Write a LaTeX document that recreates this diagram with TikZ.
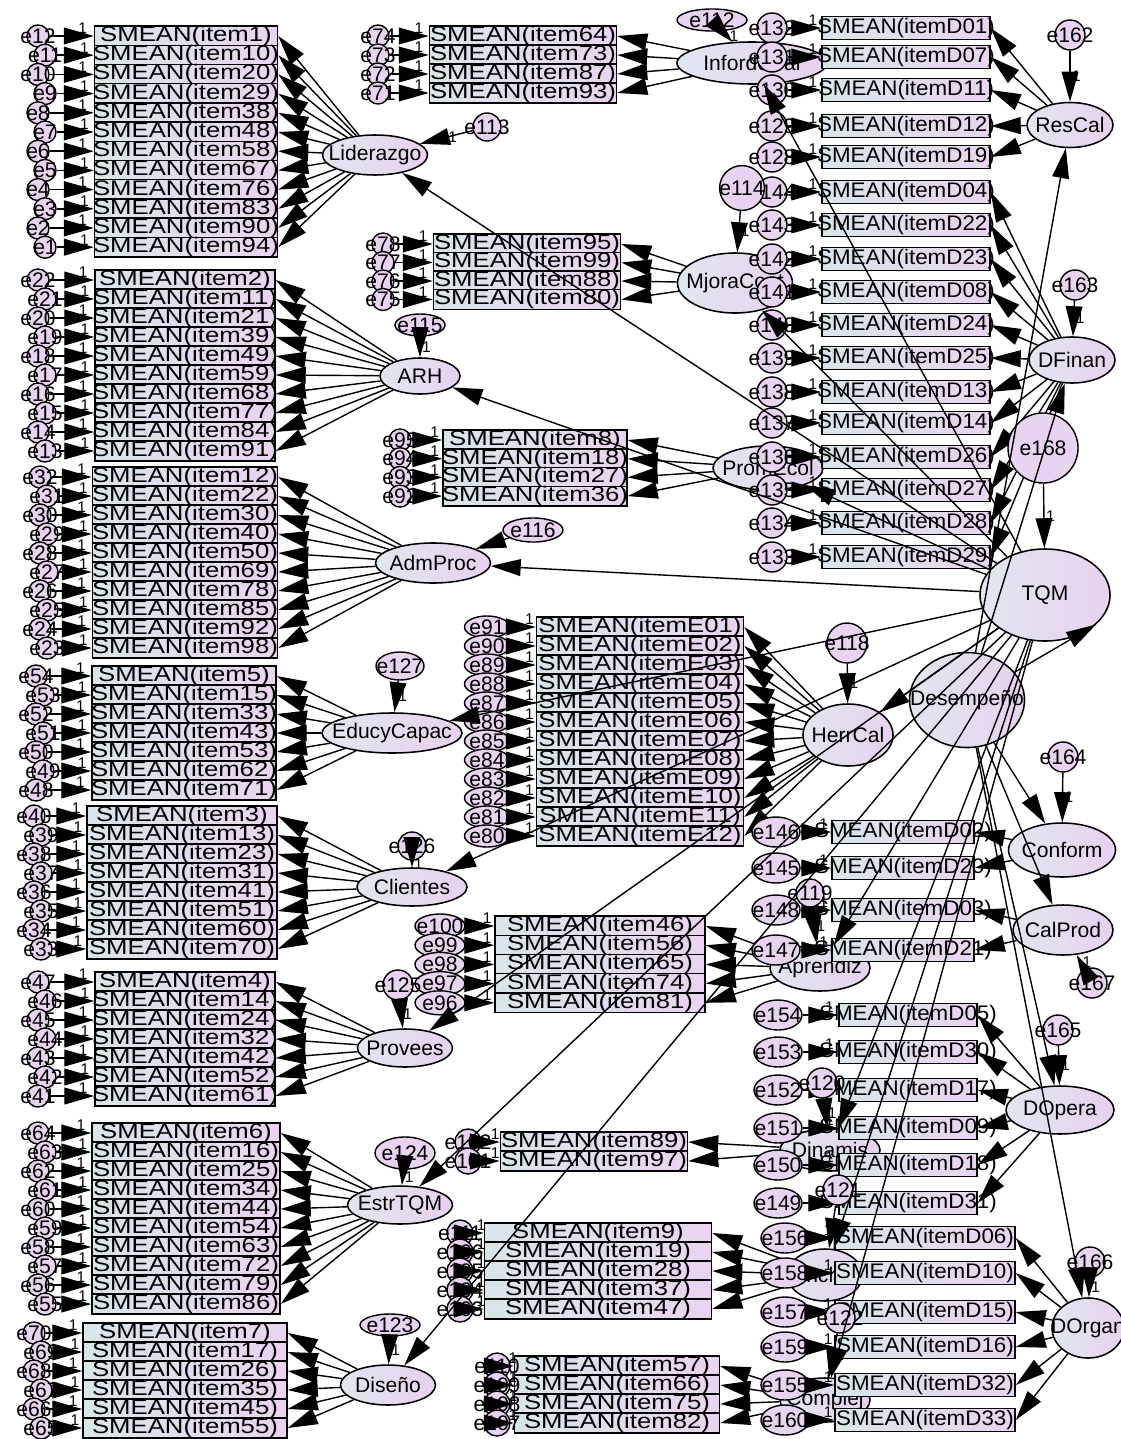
\documentclass[tikz,border=0pt]{standalone}
\usepackage{fontspec}
\setmainfont{Liberation Sans}
\newfontfamily\itmfont[FakeStretch=1.22]{Liberation Sans}
\newfontfamily\ditmfont[FakeStretch=1.06]{Liberation Sans}
\usepackage{tikz}
\usetikzlibrary{arrows.meta,shapes.geometric}
\definecolor{itmL}{HTML}{D8E6E9}
\definecolor{itmR}{HTML}{EAD3F1}
\definecolor{latL}{HTML}{E1E7EF}
\definecolor{latR}{HTML}{E7D1EF}
\definecolor{errF}{HTML}{E8D3F0}
\newcommand\smean[1]{\makebox[0pt]{\itmfont\fontsize{15}{15}\selectfont SMEAN(#1)}}
\newcommand\dmean[1]{\makebox[0pt]{\ditmfont\fontsize{15}{15}\selectfont SMEAN(#1)}}
\newcommand\lbl[1]{\makebox[0pt]{#1}}

\begin{document}
\begin{tikzpicture}[x=0.025cm,y=-0.025cm,font=\fontsize{15}{15}\selectfont,
  itm/.style={draw,line width=1pt,left color=itmL,right color=itmR,minimum height=.48cm,inner sep=0pt},
  ditm/.style={itm,minimum height=.58cm},
  err/.style={draw,circle,line width=1pt,fill=errF,minimum size=.55cm,inner sep=0pt},
  errov/.style={draw,ellipse,line width=1pt,fill=errF,inner sep=0pt},
  lat/.style={draw,ellipse,line width=1.1pt,left color=latL,right color=latR,inner sep=0pt},
  arr/.style={-{Triangle[length=7.5mm,width=4.2mm]},line width=1pt},
  one/.style={font=\fontsize{11}{11}\selectfont,above,pos=.75,inner sep=1pt}]
\fill[white] (0,0) rectangle (1120,1439);
\useasboundingbox (0,0) rectangle (1120,1439);

% left column
\node[lat,minimum width=2.625cm,minimum height=1cm] (Lider) at (375,155) {\lbl{Liderazgo}};
\foreach \nm/\ev [count=\i from 0] in {1/12,10/11,20/10,29/9,38/8,48/7,58/6,67/5,76/4,83/3,90/2,94/1}{
  \node[itm,minimum width=4.575cm] (lid\i) at (186,{36+19.2*\i}) {\smean{item\nm}};
  \node[err] (elid\i) at ({38+7*mod(\i,2)},{36+19.2*\i}) {\lbl{e\ev}};
  \draw[arr] (elid\i) -- node[one]{1} (lid\i);
  \draw[arr] (Lider) -- (lid\i.east);
}
\node[lat,minimum width=2cm,minimum height=.9cm] (ARH) at (420,376) {\lbl{ARH}};
\foreach \nm/\ev [count=\i from 0] in {2/22,11/21,21/20,39/19,49/18,59/17,68/16,77/15,84/14,91/13}{
  \node[itm,minimum width=4.5cm] (arh\i) at (185,{280+19*\i}) {\smean{item\nm}};
  \node[err] (earh\i) at ({38+7*mod(\i,2)},{280+19*\i}) {\lbl{e\ev}};
  \draw[arr] (earh\i) -- node[one]{1} (arh\i);
  \draw[arr] (ARH) -- (arh\i.east);
}
\node[lat,minimum width=2.875cm,minimum height=1cm] (AdmProc) at (433,563) {\lbl{AdmProc}};
\foreach \nm/\ev [count=\i from 0] in {12/32,22/31,30/30,40/29,50/28,69/27,78/26,85/25,92/24,98/23}{
  \node[itm,minimum width=4.625cm] (adm\i) at (185,{477+19*\i}) {\smean{item\nm}};
  \node[err] (eadm\i) at ({40+7*mod(\i,2)},{477+19*\i}) {\lbl{e\ev}};
  \draw[arr] (eadm\i) -- node[one]{1} (adm\i);
  \draw[arr] (AdmProc) -- (adm\i.east);
}
\node[lat,minimum width=3.5cm,minimum height=1cm] (Educ) at (392,733) {\lbl{EducyCapac}};
\foreach \nm/\ev [count=\i from 0] in {5/54,15/53,33/52,43/51,53/50,62/49,71/48}{
  \node[itm,minimum width=4.6cm] (edu\i) at (184,{676+19*\i}) {\smean{item\nm}};
  \node[err] (eedu\i) at ({36+7*mod(\i,2)},{676+19*\i}) {\lbl{e\ev}};
  \draw[arr] (eedu\i) -- node[one]{1} (edu\i);
  \draw[arr] (Educ) -- (edu\i.east);
}
\node[lat,minimum width=2.75cm,minimum height=.95cm] (Client) at (412,887) {\lbl{Clientes}};
\foreach \nm/\ev [count=\i from 0] in {3/40,13/39,23/38,31/37,41/36,51/35,60/34,70/33}{
  \node[itm,minimum width=4.75cm] (cli\i) at (182,{816+19*\i}) {\smean{item\nm}};
  \node[err] (ecli\i) at ({34+7*mod(\i,2)},{816+19*\i}) {\lbl{e\ev}};
  \draw[arr] (ecli\i) -- node[one]{1} (cli\i);
  \draw[arr] (Client) -- (cli\i.east);
}
\node[lat,minimum width=2.375cm,minimum height=.95cm] (Provee) at (405,1048) {\lbl{Provees}};
\foreach \nm/\ev [count=\i from 0] in {4/47,14/46,24/45,32/44,42/43,52/42,61/41}{
  \node[itm,minimum width=4.5cm] (pro\i) at (185,{982+19*\i}) {\smean{item\nm}};
  \node[err] (epro\i) at ({38+7*mod(\i,2)},{982+19*\i}) {\lbl{e\ev}};
  \draw[arr] (epro\i) -- node[one]{1} (pro\i);
  \draw[arr] (Provee) -- (pro\i.east);
}
\node[lat,minimum width=2.625cm,minimum height=.95cm] (EstrTQM) at (400,1205) {\lbl{EstrTQM}};
\foreach \nm/\ev [count=\i from 0] in {6/64,16/63,25/62,34/61,44/60,54/59,63/58,72/57,79/56,86/55}{
  \node[itm,minimum width=4.7cm] (est\i) at (186,{1133+19*\i}) {\smean{item\nm}};
  \node[err] (eest\i) at ({38+7*mod(\i,2)},{1133+19*\i}) {\lbl{e\ev}};
  \draw[arr] (eest\i) -- node[one]{1} (est\i);
  \draw[arr] (EstrTQM) -- (est\i.east);
}
\node[lat,minimum width=2.375cm,minimum height=1cm] (Disenio) at (388,1385) {\lbl{Diseño}};
\foreach \nm/\ev [count=\i from 0] in {7/70,17/69,26/68,35/67,45/66,55/65}{
  \node[itm,minimum width=5.1cm] (dis\i) at (185,{1333+19*\i}) {\smean{item\nm}};
  \node[err] (edis\i) at ({34+7*mod(\i,2)},{1333+19*\i}) {\lbl{e\ev}};
  \draw[arr] (edis\i) -- node[one]{1} (dis\i);
  \draw[arr] (Disenio) -- (dis\i.east);
}

% middle column
\node[lat,minimum width=3.75cm,minimum height=1.05cm] (Infor) at (752,63) {\lbl{InfordeCal}};
\foreach \nm/\ev [count=\i from 0] in {64/74,73/73,87/72,93/71}{
  \node[itm,minimum width=4.675cm] (inf\i) at (523,{36+19*\i}) {\smean{item\nm}};
  \node[err] (einf\i) at (378,{36+19*\i}) {\lbl{e\ev}};
  \draw[arr] (einf\i) -- node[one]{1} (inf\i);
  \draw[arr] (Infor) -- (inf\i.east);
}
\node[lat,minimum width=2.875cm,minimum height=1.5cm] (Mjora) at (735,283) {\lbl{MjoraCont}};
\foreach \nm/\ev [count=\i from 0] in {95/78,99/77,88/76,80/75}{
  \node[itm,minimum width=4.675cm] (mjo\i) at (527,{244+18.5*\i}) {\smean{item\nm}};
  \node[err] (emjo\i) at (383,{244+18.5*\i}) {\lbl{e\ev}};
  \draw[arr] (emjo\i) -- node[one]{1} (mjo\i);
  \draw[arr] (Mjora) -- (mjo\i.east);
}
\node[lat,minimum width=2.75cm,minimum height=1.1cm] (PromEcol) at (768,468) {\lbl{PromEcol}};
\foreach \nm/\ev [count=\i from 0] in {8/95,18/94,27/93,36/92}{
  \node[itm,minimum width=4.6cm] (pec\i) at (535,{440+18.7*\i}) {\smean{item\nm}};
  \node[err] (epec\i) at (400,{440+18.7*\i}) {\lbl{e\ev}};
  \draw[arr] (epec\i) -- node[one]{1} (pec\i);
  \draw[arr] (PromEcol) -- (pec\i.east);
}
\node[lat,minimum width=2.25cm,minimum height=1.55cm] (HerrCal) at (848,735) {\lbl{HerrCal}};
\foreach \nm/\ev [count=\i from 0] in {E01/91,E02/90,E03/89,E04/88,E05/87,E06/86,E07/85,E08/84,E09/83,E10/82,E11/81,E12/80}{
  \node[itm,minimum width=5.175cm] (her\i) at (640,{627+19*\i}) {\smean{item\nm}};
  \node[errov,minimum width=1.125cm,minimum height=.55cm] (eher\i) at (487,{627+19*\i}) {\lbl{e\ev}};
  \draw[arr] (eher\i) -- node[one]{1} (her\i);
  \draw[arr] (HerrCal) -- (her\i.east);
}
\node[lat,minimum width=2.5cm,minimum height=1.15cm] (Aprend) at (820,968) {\lbl{Aprendiz}};
\foreach \nm/\ev [count=\i from 0] in {46/100,56/99,65/98,74/97,81/96}{
  \node[itm,minimum width=5.25cm] (apr\i) at (600,{926+19.2*\i}) {\smean{item\nm}};
  \node[errov,minimum width=1.25cm,minimum height=.6cm] (eapr\i) at (440,{926+19.2*\i}) {\lbl{e\ev}};
  \draw[arr] (eapr\i) -- node[one]{1} (apr\i);
  \draw[arr] (Aprend) -- (apr\i.east);
}
\node[lat,minimum width=2.5cm,minimum height=1.05cm] (Dinam) at (830,1150) {\lbl{Dinamis}};
\foreach \nm/\ev [count=\i from 0] in {89/102,97/101}{
  \node[itm,minimum width=4.675cm] (din\i) at (594,{1142+19*\i}) {\smean{item\nm}};
  \node[err,minimum size=.65cm] (edin\i) at (468,{1142+19*\i}) {\lbl{e\ev}};
  \draw[arr] (edin\i) -- node[one]{1} (din\i);
  \draw[arr] (Dinam) -- (din\i.east);
}
\node[one] at (728,1132) {1};
\node[lat,minimum width=1.875cm,minimum height=1.3cm] (Bench) at (825,1275) {\lbl{BnchM}};
\foreach \nm/\ev [count=\i from 0] in {9/111,19/106,28/105,37/104,47/103}{
  \node[itm,minimum width=5.675cm] (bnc\i) at (598,{1233+19*\i}) {\smean{item\nm}};
  \node[err,minimum size=.65cm] (ebnc\i) at (460,{1233+19*\i}) {\lbl{e\ev}};
  \draw[arr] (ebnc\i) -- node[one]{1} (bnc\i);
  \draw[arr] (Bench) -- (bnc\i.east);
}
\node[lat,minimum width=2.25cm,minimum height=1.1cm] (Complej) at (825,1400) {\lbl{Complej}};
\foreach \nm/\ev [count=\i from 0] in {57/110,66/109,75/108,82/107}{
  \node[itm,minimum width=5.125cm] (com\i) at (617,{1366+19*\i}) {\smean{item\nm}};
  \node[err,minimum size=.65cm] (ecom\i) at (497,{1366+19*\i}) {\lbl{e\ev}};
  \draw[arr] (ecom\i) -- node[one]{1} (com\i);
  \draw[arr] (Complej) -- (com\i.east);
}

% right column
\node[lat,minimum width=2.15cm,minimum height=1.125cm] (ResCal) at (1070,125) {\lbl{ResCal}};
\foreach \nm/\ev/\y [count=\i from 0] in {D01/132/28,D07/131/57,D11/130/90,D12/129/126,D19/128/157}{
  \node[ditm,minimum width=4.2cm] (res\i) at (906,\y) {\dmean{item\nm}};
  \node[err,minimum size=.75cm] (eres\i) at (772,\y) {\lbl{e\ev}};
  \draw[arr] (eres\i) -- node[one]{1} (res\i);
  \draw[arr] (ResCal) -- (res\i.east);
}
\node[lat,minimum width=2.15cm,minimum height=1.15cm] (DFinan) at (1072,360) {\lbl{DFinan}};
\foreach \nm/\ev/\y [count=\i from 0] in {D04/144/192,D22/143/225,D23/142/259,D08/141/292,D24/140/325,D25/139/358,D13/138/392,D14/137/423,D26/136/457,D27/135/490,D28/134/523,D29/133/557}{
  \node[ditm,minimum width=4.2cm] (fin\i) at (906,\y) {\dmean{item\nm}};
  \node[err,minimum size=.75cm] (efin\i) at (772,\y) {\lbl{e\ev}};
  \draw[arr] (efin\i) -- node[one]{1} (fin\i);
  \draw[arr] (DFinan) -- (fin\i.east);
}
\node[lat,minimum width=2.675cm,minimum height=1.35cm] (Conform) at (1062,850) {\lbl{Conform}};
\foreach \nm/\ev/\y [count=\i from 0] in {D02/146/832,D20/145/868}{
  \node[ditm,minimum width=3.55cm] (con\i) at (903,\y) {\dmean{item\nm}};
  \node[errov,minimum width=1.2cm,minimum height=.75cm] (econ\i) at (776,\y) {\lbl{e\ev}};
  \draw[arr] (econ\i) -- node[one]{1} (con\i);
  \draw[arr] (Conform) -- (con\i.east);
}
\node[lat,minimum width=2.5cm,minimum height=1.25cm] (CalProd) at (1063,930) {\lbl{CalProd}};
\foreach \nm/\ev/\y [count=\i from 0] in {D03/148/910,D21/147/950}{
  \node[ditm,minimum width=3.55cm] (cal\i) at (903,\y) {\dmean{item\nm}};
  \node[errov,minimum width=1.2cm,minimum height=.75cm] (ecal\i) at (776,\y) {\lbl{e\ev}};
  \draw[arr] (ecal\i) -- node[one]{1} (cal\i);
  \draw[arr] (CalProd) -- (cal\i.east);
}
\node[lat,minimum width=2.7cm,minimum height=1.2cm] (DOpera) at (1060,1110) {\lbl{DOpera}};
\foreach \nm/\ev/\y [count=\i from 0] in {D05/154/1015,D30/153/1052,D17/152/1090,D09/151/1128,D18/150/1165,D31/149/1203}{
  \node[ditm,minimum width=3.45cm] (ope\i) at (908,\y) {\dmean{item\nm}};
  \node[errov,minimum width=1.2cm,minimum height=.75cm] (eope\i) at (778,\y) {\lbl{e\ev}};
  \draw[arr] (eope\i) -- node[one]{1} (ope\i);
  \draw[arr] (DOpera) -- (ope\i.east);
}
\node[lat,minimum width=1.8cm,minimum height=1.5cm] (DOrgan) at (1088,1328) {\lbl{DOrgan}};
\foreach \nm/\ev/\y [count=\i from 0] in {D06/156/1238,D10/158/1273,D15/157/1312,D16/159/1347,D32/155/1385,D33/160/1420}{
  \node[ditm,minimum width=4.5cm] (org\i) at (925,\y) {\dmean{item\nm}};
  \node[errov,minimum width=1.2cm,minimum height=.75cm] (eorg\i) at (785,\y) {\lbl{e\ev}};
  \draw[arr] (eorg\i) -- node[one]{1} (org\i);
  \draw[arr] (DOrgan) -- (org\i.east);
}

% second order
\node[lat,minimum width=3.25cm,minimum height=2.3cm] (TQM) at (1045,595) {\lbl{TQM}};
\node[lat,minimum width=2.875cm,minimum height=2.375cm] (Desemp) at (967,700) {\lbl{Desempeño}};

% residuals of the latents
\node[err,minimum size=.7cm] (e113) at (487,127) {\lbl{e113}};
\node[errov,minimum width=1.75cm,minimum height=.55cm] (e112) at (712,20) {\lbl{e112}};
\node[err,minimum size=1.12cm] (e114) at (742,188) {\lbl{e114}};
\node[errov,minimum width=1.25cm,minimum height=.55cm] (e115) at (420,325) {\lbl{e115}};
\node[errov,minimum width=1.5cm,minimum height=.6cm] (e116) at (533,530) {\lbl{e116}};
\node[errov,minimum width=1.2cm,minimum height=.7cm] (e127) at (400,666) {\lbl{e127}};
\node[err,minimum size=.7cm] (e126) at (412,846) {\lbl{e126}};
\node[err,minimum size=.75cm] (e125) at (398,985) {\lbl{e125}};
\node[errov,minimum width=1.5cm,minimum height=.8cm] (e124) at (405,1153) {\lbl{e124}};
\node[errov,minimum width=1.5cm,minimum height=.55cm] (e123) at (390,1325) {\lbl{e123}};
\node[err,minimum size=1cm] (e118) at (847,643) {\lbl{e118}};
\node[err,minimum size=.7cm] (e119) at (810,893) {\lbl{e119}};
\node[err,minimum size=.75cm] (e120) at (822,1083) {\lbl{e120}};
\node[err,minimum size=.75cm] (e121) at (838,1190) {\lbl{e121}};
\node[err,minimum size=.75cm] (e122) at (840,1318) {\lbl{e122}};
\node[err,minimum size=.75cm] (e162) at (1070,35) {\lbl{e162}};
\node[err,minimum size=.75cm] (e163) at (1075,285) {\lbl{e163}};
\node[err,minimum size=1.75cm] (e168) at (1043,448) {\lbl{e168}};
\node[err,minimum size=.75cm] (e164) at (1063,757) {\lbl{e164}};
\node[err,minimum size=.75cm] (e167) at (1092,983) {\lbl{e167}};
\node[err,minimum size=.75cm] (e165) at (1058,1030) {\lbl{e165}};
\node[err,minimum size=.75cm] (e166) at (1090,1262) {\lbl{e166}};
\foreach \r/\t in {e113/Lider,e112/Infor,e114/Mjora,e115/ARH,e116/AdmProc,e127/Educ,e126/Client,
  e125/Provee,e124/EstrTQM,e123/Disenio,e118/HerrCal,e119/Aprend,e120/Dinam,e121/Bench,e122/Complej,
  e162/ResCal,e163/DFinan,e168/TQM,e164/Conform,e167/CalProd,e165/DOpera,e166/DOrgan}
  \draw[arr] (\r) -- node[one,right,pos=.5]{1} (\t);

% structural paths
\foreach \t in {Lider,ARH,AdmProc,Educ,Client,Provee,EstrTQM,Disenio,Infor,Mjora,PromEcol,HerrCal,Aprend,Dinam,Bench,Complej}
  \draw[arr] (TQM) -- (\t);
\foreach \t in {ResCal,DFinan,Conform,CalProd,DOpera,DOrgan}
  \draw[arr] (Desemp) -- (\t);
\draw[arr] (Desemp) -- (TQM.-30);
\end{tikzpicture}
\end{document}
